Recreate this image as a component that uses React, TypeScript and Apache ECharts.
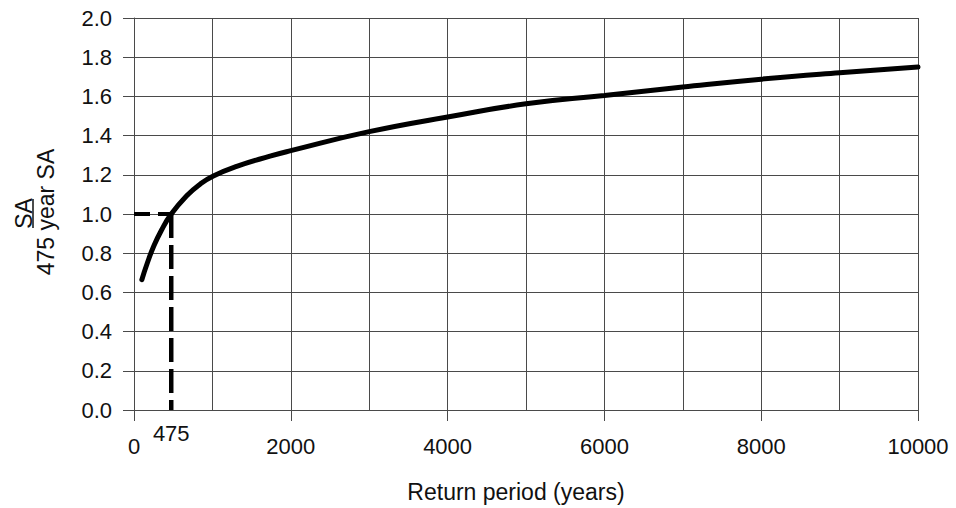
import React, { useEffect, useRef } from "react";
import * as echarts from "echarts";

const returnPeriod = [100, 170, 246, 350, 475, 672, 842, 1012, 1310, 1735, 2000, 3000, 4000, 5000, 6000, 7000, 8000, 9000, 10000];
const ratio = [0.665, 0.75, 0.83, 0.917, 1.0, 1.093, 1.152, 1.194, 1.243, 1.295, 1.323, 1.42, 1.495, 1.562, 1.605, 1.648, 1.688, 1.721, 1.75];
const refPeriod = 475;
const refRatio = 1.0;
const xTicks = { min: 0, max: 10000, interval: 2000 };
const yTicks = { min: 0, max: 2, interval: 0.2 };
const xName = "Return period (years)";
const yNameTop = "SA";
const yNameBottom = "475 year SA";

const FONT = '"Liberation Sans", Arial, Helvetica, sans-serif';
const GRID_COLOR = "#4a4a4a";

export default function App() {
  const ref = useRef<HTMLDivElement>(null);
  useEffect(() => {
    if (!ref.current) return;
    const chart = echarts.init(ref.current, undefined, { renderer: "svg" });
    const curve = returnPeriod.map((x, i) => [x, ratio[i]]);
    chart.setOption({
      animation: false,
      backgroundColor: "#fff",
      textStyle: { fontFamily: FONT },
      grid: { left: 134, right: 38, top: 18, bottom: 96, containLabel: false },
      xAxis: {
        type: "value",
        min: xTicks.min,
        max: xTicks.max,
        interval: xTicks.interval,
        name: xName,
        nameLocation: "middle",
        nameGap: 70,
        nameTextStyle: { fontSize: 23, color: "#111", fontFamily: FONT, padding: [0, 20, 0, 0] },
        axisLine: { show: true, lineStyle: { color: GRID_COLOR, width: 1 } },
        axisTick: { show: true, inside: false, length: 11, lineStyle: { color: GRID_COLOR, width: 1 } },
        axisLabel: {
          fontSize: 22,
          color: "#111",
          margin: 25,
          fontFamily: FONT,
          formatter: (v: number) => String(v),
        },
        splitLine: { show: true, lineStyle: { color: GRID_COLOR, width: 1 } },
        minorTick: { show: false, splitNumber: 2 },
        minorSplitLine: { show: true, lineStyle: { color: GRID_COLOR, width: 1 } },
      },
      yAxis: {
        type: "value",
        min: yTicks.min,
        max: yTicks.max,
        interval: yTicks.interval,
        axisLine: { show: true, lineStyle: { color: GRID_COLOR, width: 1 } },
        axisTick: { show: true, inside: false, length: 11, lineStyle: { color: GRID_COLOR, width: 1 } },
        axisLabel: {
          fontSize: 22,
          color: "#111",
          margin: 22,
          fontFamily: FONT,
          formatter: (v: number) => v.toFixed(1),
        },
        splitLine: { show: true, lineStyle: { color: GRID_COLOR, width: 1 } },
      },
      graphic: [
        {
          type: "text",
          x: 24,
          y: 213.5,
          rotation: Math.PI / 2,
          style: {
            text: yNameTop,
            fontSize: 23,
            fontFamily: FONT,
            fill: "#111",
            align: "center",
            verticalAlign: "middle",
          },
        },
        {
          type: "line",
          shape: { x1: 33, y1: 199, x2: 33, y2: 228 },
          style: { stroke: "#111", lineWidth: 1.5 },
        },
        {
          type: "text",
          x: 46,
          y: 212,
          rotation: Math.PI / 2,
          style: {
            text: yNameBottom,
            fontSize: 23,
            fontFamily: FONT,
            fill: "#111",
            align: "center",
            verticalAlign: "middle",
          },
        },
      ],
      series: [
        {
          type: "line",
          data: [
            [xTicks.min, refRatio],
            [refPeriod, refRatio],
          ],
          showSymbol: false,
          symbol: "none",
          lineStyle: { color: "#000", width: 4, type: [16, 8], cap: "butt" },
          z: 3,
        },
        {
          type: "line",
          data: [
            [refPeriod, refRatio],
            [refPeriod, yTicks.min],
          ],
          showSymbol: false,
          symbol: "none",
          lineStyle: { color: "#000", width: 4.5, type: [24, 7], cap: "butt" },
          z: 3,
        },
        {
          type: "scatter",
          data: [[refPeriod, yTicks.min]],
          symbolSize: 0,
          itemStyle: { color: "#000", opacity: 1 },
          label: {
            show: true,
            position: "bottom",
            distance: 12,
            formatter: String(refPeriod),
            fontSize: 22,
            color: "#111",
            opacity: 1,
            textBorderWidth: 0,
            fontFamily: FONT,
          },
          z: 4,
        },
        {
          type: "line",
          data: curve,
          smooth: 0.5,
          showSymbol: false,
          symbol: "none",
          lineStyle: { color: "#000", width: 5, cap: "round" },
          z: 5,
        },
      ],
    });
    return () => chart.dispose();
  }, []);
  return (
    <div
      ref={ref}
      style={{ position: "absolute", left: 0, top: 0, width: 956, height: 508 }}
    />
  );
}
